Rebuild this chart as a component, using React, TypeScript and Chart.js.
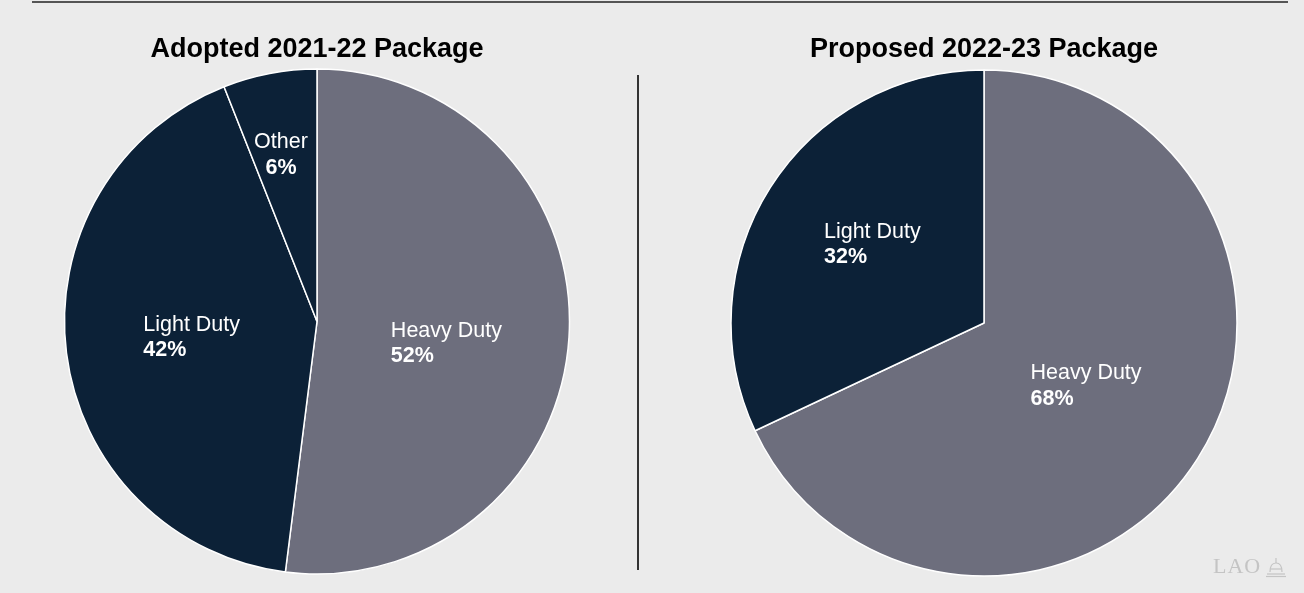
import React, { useEffect, useRef } from "react";
import { Chart, registerables } from "chart.js";

Chart.register(...registerables);

// ---- data ----
const leftTitle = "Adopted 2021-22 Package";
const rightTitle = "Proposed 2022-23 Package";
const leftCategories = ["Heavy Duty", "Light Duty", "Other"];
const leftValues = [52, 42, 6];
const rightCategories = ["Heavy Duty", "Light Duty"];
const rightValues = [68, 32];

// ---- style ----
const HEAVY = "#6d6e7d";
const DARK = "#0c2137";
const BG = "#ebebeb";
const leftColors = [HEAVY, DARK, DARK];
const rightColors = [HEAVY, DARK];
const leftLabelRadius = [0.519, 0.5, 0.68];
const leftLabelAngle = [5.4, 0.4, -1.3];
const leftLabelAlign = ["left", "left", "center"];
const rightLabelRadius = [0.471, 0.542];
const rightLabelAngle = [-1.3, 3.1];
const rightLabelAlign = ["left", "left"];

const sliceLabels = {
  id: "sliceLabels",
  afterDatasetsDraw(chart: any, _args: any, opts: any) {
    const ctx = chart.ctx;
    const meta = chart.getDatasetMeta(0);
    const data = chart.data.datasets[0].data as number[];
    const total = data.reduce((a: number, b: number) => a + b, 0);
    const labels = chart.data.labels as string[];
    meta.data.forEach((arc: any, i: number) => {
      const { x, y, startAngle, endAngle, outerRadius } = arc.getProps(
        ["x", "y", "startAngle", "endAngle", "outerRadius"],
        true
      );
      const mid = (startAngle + endAngle) / 2 + (opts.angle[i] * Math.PI) / 180;
      const f = opts.radius[i];
      const bx = x + Math.cos(mid) * outerRadius * f;
      const by = y + Math.sin(mid) * outerRadius * f;
      const line1 = labels[i];
      const line2 = Math.round((data[i] / total) * 100) + "%";
      ctx.save();
      ctx.fillStyle = "#ffffff";
      ctx.textBaseline = "alphabetic";
      const f1 = "300 21.5px 'Liberation Sans', Arial, sans-serif";
      const f2 = "bold 21.5px 'Liberation Sans', Arial, sans-serif";
      ctx.font = f1;
      const w1 = ctx.measureText(line1).width;
      ctx.font = f2;
      const w2 = ctx.measureText(line2).width;
      const w = Math.max(w1, w2);
      if (opts.align[i] === "center") {
        ctx.textAlign = "center";
        ctx.font = f1;
        ctx.fillText(line1, bx, by - 5.5);
        ctx.font = f2;
        ctx.fillText(line2, bx, by + 20);
      } else {
        ctx.textAlign = "left";
        const lx = bx - w / 2;
        ctx.font = f1;
        ctx.fillText(line1, lx, by - 5.5);
        ctx.font = f2;
        ctx.fillText(line2, lx, by + 20);
      }
      ctx.restore();
    });
  },
};

function PieCanvas(props: {
  labels: string[];
  values: number[];
  colors: string[];
  radius: number;
  padTop: number;
  width: number;
  labelRadius: number[];
  labelAngle: number[];
  labelAlign: string[];
}) {
  const ref = useRef<HTMLCanvasElement | null>(null);
  useEffect(() => {
    if (!ref.current) return;
    const chart = new Chart(ref.current, {
      type: "pie",
      data: {
        labels: props.labels,
        datasets: [
          {
            data: props.values,
            backgroundColor: props.colors,
            borderColor: "#ffffff",
            borderWidth: 1.5,
          },
        ],
      },
      options: {
        responsive: false,
        animation: false,
        devicePixelRatio: 1,
        radius: props.radius,
        layout: { padding: { top: props.padTop, bottom: 0, left: 0, right: 0 } },
        plugins: {
          legend: { display: false },
          tooltip: { enabled: false },
          title: { display: false },
          sliceLabels: {
            radius: props.labelRadius,
            angle: props.labelAngle,
            align: props.labelAlign,
          },
        } as any,
      },
      plugins: [sliceLabels],
    } as any);
    return () => chart.destroy();
  }, []);
  return (
    <canvas
      ref={ref}
      width={props.width}
      height={593}
      style={{ width: props.width, height: 593, display: "block" }}
    />
  );
}

const titleStyle: React.CSSProperties = {
  position: "absolute",
  top: 33,
  fontFamily: "'Liberation Sans', Arial, sans-serif",
  fontWeight: "bold",
  fontSize: 27,
  lineHeight: "30px",
  color: "#000",
  textAlign: "center",
  width: 500,
  whiteSpace: "nowrap",
};

export default function App() {
  useEffect(() => {
    document.body.style.margin = "0";
    document.body.style.background = BG;
  }, []);
  return (
    <div
      style={{
        position: "fixed",
        left: 0,
        top: 0,
        width: 1304,
        height: 593,
        background: BG,
        overflow: "hidden",
      }}
    >
      <div
        style={{
          position: "absolute",
          left: 32,
          top: 1,
          width: 1256,
          height: 2,
          background: "#555555",
        }}
      />
      <div style={{ position: "absolute", left: 0, top: 0 }}>
        <PieCanvas
          labels={leftCategories}
          values={leftValues}
          colors={leftColors}
          radius={252.5}
          padTop={50}
          width={634}
          labelRadius={leftLabelRadius}
          labelAngle={leftLabelAngle}
          labelAlign={leftLabelAlign}
        />
      </div>
      <div style={{ position: "absolute", left: 670, top: 0 }}>
        <PieCanvas
          labels={rightCategories}
          values={rightValues}
          colors={rightColors}
          radius={253}
          padTop={53}
          width={628}
          labelRadius={rightLabelRadius}
          labelAngle={rightLabelAngle}
          labelAlign={rightLabelAlign}
        />
      </div>
      <div style={{ ...titleStyle, left: 317 - 250 }}>{leftTitle}</div>
      <div style={{ ...titleStyle, left: 984 - 250 }}>{rightTitle}</div>
      <div
        style={{
          position: "absolute",
          left: 637,
          top: 75,
          width: 1.5,
          height: 495,
          background: "#333333",
        }}
      />
      <div
        style={{
          position: "absolute",
          left: 1213,
          top: 553,
          fontFamily: "'Liberation Serif', 'DejaVu Serif', serif",
          fontSize: 22,
          lineHeight: "26px",
          color: "#c4c4c4",
          letterSpacing: 1,
        }}
      >
        LAO
      </div>
      <svg
        style={{ position: "absolute", left: 1266, top: 555 }}
        width={20}
        height={24}
        viewBox="0 0 20 24"
      >
        <g stroke="#c4c4c4" fill="none" strokeWidth={1.2}>
          <path d="M4 17 Q4 8 10 8 Q16 8 16 17" />
          <line x1="10" y1="3" x2="10" y2="8" />
          <line x1="1" y1="19" x2="19" y2="19" />
          <line x1="0" y1="21.5" x2="20" y2="21.5" />
          <line x1="5" y1="14" x2="15" y2="14" />
        </g>
      </svg>
    </div>
  );
}
